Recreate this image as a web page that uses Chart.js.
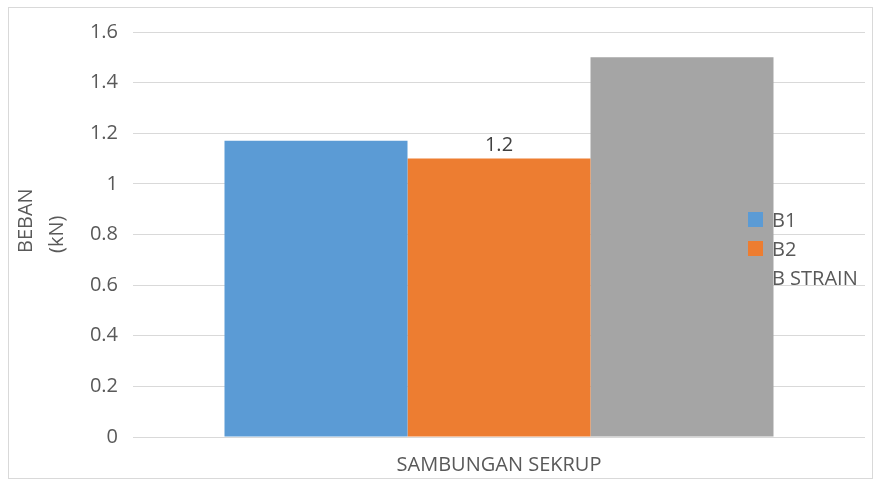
<!DOCTYPE html>
<html>
<head>
<meta charset="utf-8">
<script src="https://cdn.jsdelivr.net/npm/chart.js@4/dist/chart.umd.min.js"></script>
<style>
  html, body { margin: 0; padding: 0; background: #fff; }
  #wrap { width: 876px; height: 488px; }
</style>
</head>
<body>
<div id="wrap"><canvas id="myChart" width="876" height="488"></canvas></div>
<script>
const categories = ["SAMBUNGAN SEKRUP"];
const seriesNames = ["B1", "B2", "B STRAIN"];
const b1 = [1.17];
const b2 = [1.1];
const bStrain = [1.5];
const barLabels = [null, "1.2", null]; // label shown above each series (only B2 has one)
const yTitle = ["BEBAN", "(kN)"];
const colors = ["#5B9BD5", "#ED7D31", "#A5A5A5"];

const FONT = "'Open Sans', sans-serif";
const TEXT = "#595959";

// frame around the whole chart + y title
const decor = {
  id: "decor",
  beforeDraw(chart) {
    const c = chart.ctx;
    c.save();
    c.fillStyle = "#fff";
    c.fillRect(0, 0, chart.width, chart.height);
    c.strokeStyle = "#d9d9d9";
    c.lineWidth = 1;
    c.strokeRect(8.5, 7.5, 864, 471);
    c.restore();
  },
  afterDraw(chart) {
    const c = chart.ctx;
    c.save();
    c.fillStyle = TEXT;
    c.font = "20px " + FONT;
    c.textAlign = "left";
    c.textBaseline = "middle";
    c.translate(26, 253);
    c.rotate(-Math.PI / 2);
    yTitle.forEach((t, i) => c.fillText(t, 0, i * 31));
    c.restore();
  }
};

// data label + legend drawn over the bars
const overlay = {
  id: "overlay",
  afterDatasetsDraw(chart) {
    const c = chart.ctx;
    c.save();
    c.font = "20px " + FONT;
    chart.data.datasets.forEach((ds, i) => {
      if (!barLabels[i]) return;
      const bar = chart.getDatasetMeta(i).data[0];
      c.fillStyle = "#404040";
      c.textAlign = "center";
      c.textBaseline = "bottom";
      c.fillText(barLabels[i], bar.x, bar.y - 3);
    });
    const ys = [220, 249, 278];
    chart.data.datasets.forEach((ds, i) => {
      c.fillStyle = ds.backgroundColor;
      c.fillRect(748, ys[i] - 8, 15, 15);
      c.fillStyle = TEXT;
      c.textAlign = "left";
      c.textBaseline = "middle";
      c.fillText(ds.label, 772, ys[i] + 1);
    });
    c.restore();
  }
};

const ctx = document.getElementById("myChart").getContext("2d");
const myChart = new Chart(ctx, {
  type: "bar",
  data: {
    labels: categories,
    datasets: [
      { label: seriesNames[0], data: b1, backgroundColor: colors[0] },
      { label: seriesNames[1], data: b2, backgroundColor: colors[1] },
      { label: seriesNames[2], data: bStrain, backgroundColor: colors[2] },
    ],
  },
  options: {
    responsive: false,
    animation: false,
    layout: { padding: { top: 32, right: 11, bottom: 0, left: 0 } },
    datasets: {
      bar: { categoryPercentage: 0.75, barPercentage: 1.0 },
    },
    plugins: {
      legend: { display: false },
      tooltip: { enabled: false },
    },
    scales: {
      x: {
        grid: { display: false, drawTicks: false },
        border: { display: false },
        ticks: { color: TEXT, font: { family: FONT, size: 20 }, padding: 16 },
        afterFit(scale) { scale.height = 51; },
      },
      y: {
        min: 0,
        max: 1.6,
        grid: { color: "#d9d9d9", lineWidth: 1, drawTicks: false },
        border: { display: false },
        ticks: {
          stepSize: 0.2,
          color: TEXT,
          font: { family: FONT, size: 20 },
          padding: 15,
          callback: (v) => String(Number(v.toFixed(1))),
        },
        afterFit(scale) {
          scale.width = 133;
          scale.paddingTop = 0;
          scale.paddingBottom = 0;
        },
      },
    },
  },
  plugins: [decor, overlay],
});
</script>
</body>
</html>
